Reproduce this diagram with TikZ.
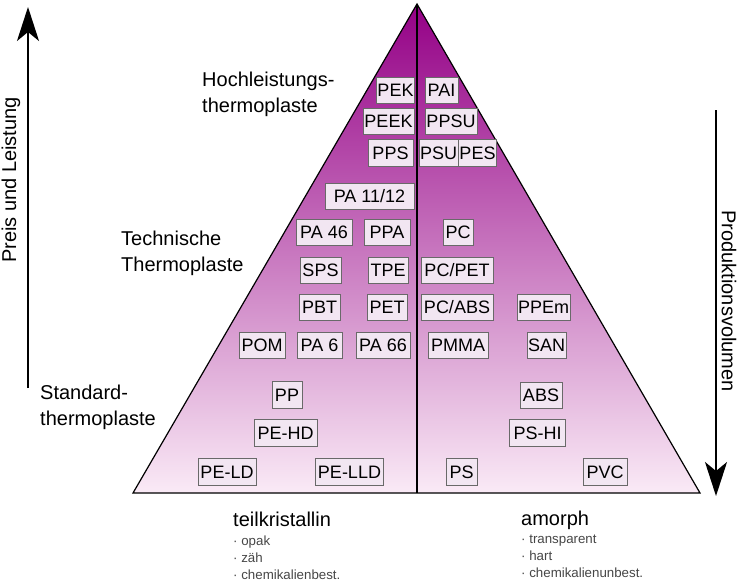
\documentclass[tikz,border=0pt]{standalone}
\usepackage{fontspec}
\setmainfont{Liberation Sans}
\usetikzlibrary{arrows.meta}
\definecolor{ptop}{RGB}{148,0,134}
\definecolor{pbot}{RGB}{250,234,246}
\definecolor{boxfill}{RGB}{242,230,242}
\definecolor{boxdraw}{RGB}{105,105,105}
\definecolor{bullgray}{RGB}{70,70,70}
\tikzset{
  pbox/.style={draw=boxdraw, fill=boxfill, line width=0.9pt, minimum height=26.5pt,
    inner xsep=1pt, inner ysep=0pt, font=\fontsize{18}{20}\selectfont},
  lvl/.style={anchor=north west, align=left, inner sep=0pt, font=\fontsize{20}{26}\selectfont},
  ttl/.style={anchor=base west, inner sep=0pt, font=\fontsize{20}{22}\selectfont},
  blist/.style={anchor=north west, align=left, inner sep=0pt, text=bullgray, font=\fontsize{13.3}{16.7}\selectfont},
  bigarrow/.style={line width=2pt, -{Stealth[length=34pt, width=22pt, inset=9pt]}}
}
\begin{document}
\begin{tikzpicture}[x=1pt, y=-1pt]
\useasboundingbox (0,0) rectangle (741,582);
% pyramid
\coordinate (apex) at (417,4);
\coordinate (bl) at (133,493);
\coordinate (br) at (700,493);
\coordinate (bm) at (417,493);
\path[top color=ptop, bottom color=pbot] (apex) -- (br) -- (bl) -- cycle;
\draw[line width=1.2pt, line join=miter] (apex) -- (br) -- (bl) -- cycle;
\draw[line width=1.1pt] (apex) -- (bm);
% boxes
\node[pbox, minimum width=37pt] (pek) at (395.5,90.5) {PEK};
\node[pbox, minimum width=33pt] (pai) at (441.5,90.5) {PAI};
\node[pbox, minimum width=51pt] (peek) at (388.5,121.5) {PEEK};
\node[pbox, minimum width=52pt] (ppsu) at (451,121.5) {PPSU};
\node[pbox, minimum width=45pt] (pps) at (390.5,153) {PPS};
\node[pbox, minimum width=39pt] (psu) at (438.5,153) {PSU};
\node[pbox, minimum width=37pt] (pes) at (477.5,153) {PES};
\node[pbox, minimum width=89pt] (pa1112) at (369.5,196.5) {PA 11/12};
\node[pbox, minimum width=56pt] (pa46) at (324,232.5) {PA 46};
\node[pbox, minimum width=46pt] (ppa) at (387,232.5) {PPA};
\node[pbox, minimum width=30pt] (pc) at (458,232.5) {PC};
\node[pbox, minimum width=41pt] (sps) at (320.5,270.5) {SPS};
\node[pbox, minimum width=40pt] (tpe) at (388,270.5) {TPE};
\node[pbox, minimum width=72pt] (pcpet) at (457,270.5) {PC/PET};
\node[pbox, minimum width=41pt] (pbt) at (319.5,307.5) {PBT};
\node[pbox, minimum width=40pt] (pet) at (387,307.5) {PET};
\node[pbox, minimum width=72pt] (pcabs) at (457,307.5) {PC/ABS};
\node[pbox, minimum width=47pt] (ppem) at (543.5,307.5) {PPEm};
\node[pbox, minimum width=46pt] (pom) at (262,345.5) {POM};
\node[pbox, minimum width=45pt] (pa6) at (319.5,345.5) {PA 6};
\node[pbox, minimum width=54pt] (pa66) at (383,345.5) {PA 66};
\node[pbox, minimum width=60pt] (pmma) at (458,345.5) {PMMA};
\node[pbox, minimum width=39pt] (san) at (546.5,345.5) {SAN};
\node[pbox, minimum width=30pt] (pp) at (287,395) {PP};
\node[pbox, minimum width=42pt] (abs) at (541,395.5) {ABS};
\node[pbox, minimum width=63pt] (pehd) at (285.5,433) {PE-HD};
\node[pbox, minimum width=56pt] (pshi) at (537.5,433) {PS-HI};
\node[pbox, minimum width=58pt] (peld) at (227,472) {PE-LD};
\node[pbox, minimum width=68pt] (pelld) at (349.5,472) {PE-LLD};
\node[pbox, minimum width=31pt] (ps) at (461.5,472) {PS};
\node[pbox, minimum width=44pt] (pvc) at (605,472) {PVC};
% level labels
\node[lvl] (hl) at (202,72) {Hochleistungs-\\thermoplaste};
\node[lvl] (tt) at (121,231) {Technische\\Thermoplaste};
\node[lvl] (st) at (40,385) {Standard-\\thermoplaste};
% arrows
\coordinate (la0) at (28,388);
\coordinate (la1) at (28,7);
\draw[bigarrow] (la0) -- (la1);
\node[rotate=90, inner sep=0pt, font=\fontsize{20}{22}\selectfont] (pl) at (11,180) {Preis und Leistung};
\coordinate (ra0) at (716,110);
\coordinate (ra1) at (716,496);
\draw[bigarrow] (ra0) -- (ra1);
\node[rotate=-90, inner sep=0pt, font=\fontsize{20}{22}\selectfont] (pv) at (729,301) {Produktionsvolumen};
% bottom
\node[ttl] (tk) at (233,526) {teilkristallin};
\node[blist] (tkl) at (233,536) {· opak\\· zäh\\· chemikalienbest.};
\node[ttl] (am) at (521,525) {amorph};
\node[blist] (aml) at (521,535) {· transparent\\· hart\\· chemikalienunbest.};
\end{tikzpicture}
\end{document}
